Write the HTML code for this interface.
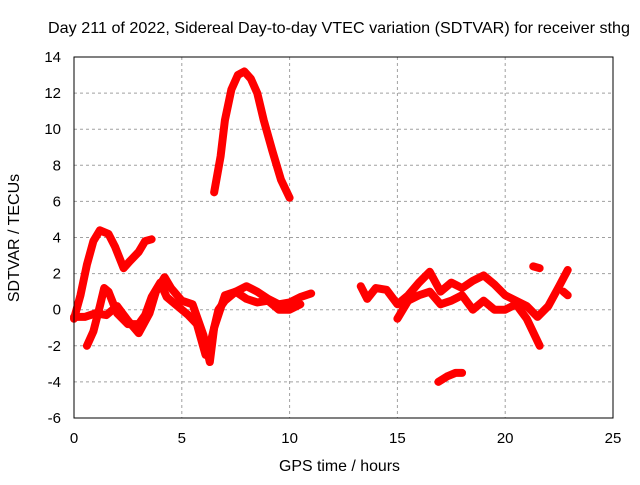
<!DOCTYPE html>
<html><head><meta charset="utf-8"><style>
body{margin:0;background:#fff}
text{font-family:"Liberation Sans",sans-serif;font-size:15px;fill:#000}
</style></head><body>
<svg id="c" width="640" height="480">
<rect width="640" height="480" fill="#fff"/>
<text x="48" y="33" textLength="582" lengthAdjust="spacingAndGlyphs" style="font-size:16px">Day 211 of 2022, Sidereal Day-to-day VTEC variation (SDTVAR) for receiver sthg</text>
<text x="279" y="471" textLength="121" lengthAdjust="spacingAndGlyphs" style="font-size:16px">GPS time / hours</text>
<text transform="translate(19,238) rotate(-90)" text-anchor="middle" style="font-size:16px">SDTVAR / TECUs</text>
<g id="grid"></g><g id="marks"></g>
<rect x="74" y="57" width="539" height="361" fill="none" stroke="#000"/>
</svg>
<script>
const xTicks=[0,5,10,15,20,25];
const yTicks=[-6,-4,-2,0,2,4,6,8,10,12,14];
const s1X=[0,0.3,0.6,0.9,1.2,1.6,1.9,2.3,2.6,3.0,3.3,3.6];
const s1Y=[-0.5,0.8,2.5,3.8,4.4,4.2,3.5,2.3,2.7,3.2,3.8,3.9];
const s2X=[0.6,0.9,1.2,1.4,1.6,2.0,2.5,3.0,3.3,3.6,4.0,4.3,4.8,5.3,5.7,6.1,6.4,6.7,7.0,7.5,8.0,8.5,9.0,9.5,10.0,10.5,11.0];
const s2Y=[-2.0,-1.2,0.2,1.2,1.0,-0.2,-0.8,-0.8,-0.3,0.7,1.5,0.7,0.2,-0.3,-0.8,-2.5,-1.5,0.0,0.5,1.0,1.3,1.0,0.6,0.3,0.4,0.7,0.9];
const s3X=[0,0.5,1.0,1.5,2.0,2.5,3.0,3.5,3.8,4.2,4.5,5.0,5.5,6.0,6.3,6.5,7.0,7.5,8.0,8.5,9.0,9.5,10.0,10.5];
const s3Y=[-0.4,-0.4,-0.2,-0.3,0.2,-0.6,-1.3,-0.2,1.0,1.8,1.2,0.5,0.3,-1.4,-2.9,-1.0,0.8,1.0,0.6,0.4,0.5,0.0,0.0,0.3];
const s4X=[6.5,6.8,7.0,7.3,7.6,7.9,8.2,8.5,8.8,9.2,9.6,10.0];
const s4Y=[6.5,8.5,10.5,12.2,13.0,13.2,12.8,12.0,10.5,8.8,7.2,6.2];
const s5X=[13.3,13.6,14.0,14.5,15.0,15.5,16.0,16.5,17.0,17.5,18.0,18.5,19.0,19.5,20.0,20.5,21.0,21.5,22.0,22.5,22.9];
const s5Y=[1.3,0.6,1.2,1.1,0.3,0.8,1.5,2.1,1.0,1.5,1.2,1.6,1.9,1.4,0.8,0.5,0.2,-0.4,0.2,1.3,2.2];
const s6X=[15.0,15.5,16.0,16.5,17.0,17.5,18.0,18.5,19.0,19.5,20.0,20.5,21.0,21.6];
const s6Y=[-0.5,0.5,0.8,1.0,0.3,0.5,0.8,0.0,0.5,0.0,0.0,0.3,-0.5,-2.0];
const s7X=[16.9,17.3,17.7,18.0];
const s7Y=[-4.0,-3.7,-3.5,-3.5];
const s8X=[21.3,21.6];
const s8Y=[2.4,2.3];
const s9X=[22.7,22.9];
const s9Y=[1.0,0.8];
const series=[[s1X,s1Y],[s2X,s2Y],[s3X,s3Y],[s4X,s4Y],[s5X,s5Y],[s6X,s6Y],[s7X,s7Y],[s8X,s8Y],[s9X,s9Y]];
const X=v=>74+v*(539/25), Y=v=>57+(14-v)*(361/20);
const NS='http://www.w3.org/2000/svg';
const g=document.getElementById('grid'), m=document.getElementById('marks');
function mk(tag,at,par){const e=document.createElementNS(NS,tag);for(const k in at)e.setAttribute(k,at[k]);par.appendChild(e);return e;}
xTicks.forEach(t=>{
 const l=mk('line',{x1:X(t),x2:X(t),y1:57,y2:418,stroke:'#a0a0a0','stroke-dasharray':'3,3'},g);
 
 
 const tx=mk('text',{x:X(t),y:443,'text-anchor':'middle'},g);tx.textContent=t;
 
 
});
yTicks.forEach(t=>{
 const l=mk('line',{x1:74,x2:613,y1:Y(t),y2:Y(t),stroke:'#a0a0a0','stroke-dasharray':'3,3'},g);
 
 
 const tx=mk('text',{x:61,y:Y(t)+5,'text-anchor':'end'},g);tx.textContent=t;
 
 
});
series.forEach(([xs,ys],i)=>{
 const p=mk('polyline',{points:xs.map((x,j)=>X(x)+','+Y(ys[j])).join(' '),fill:'none',stroke:'#ff0000','stroke-width':8,'stroke-linejoin':'round','stroke-linecap':'round'},m);
 
 
});
</script>
</body></html>
